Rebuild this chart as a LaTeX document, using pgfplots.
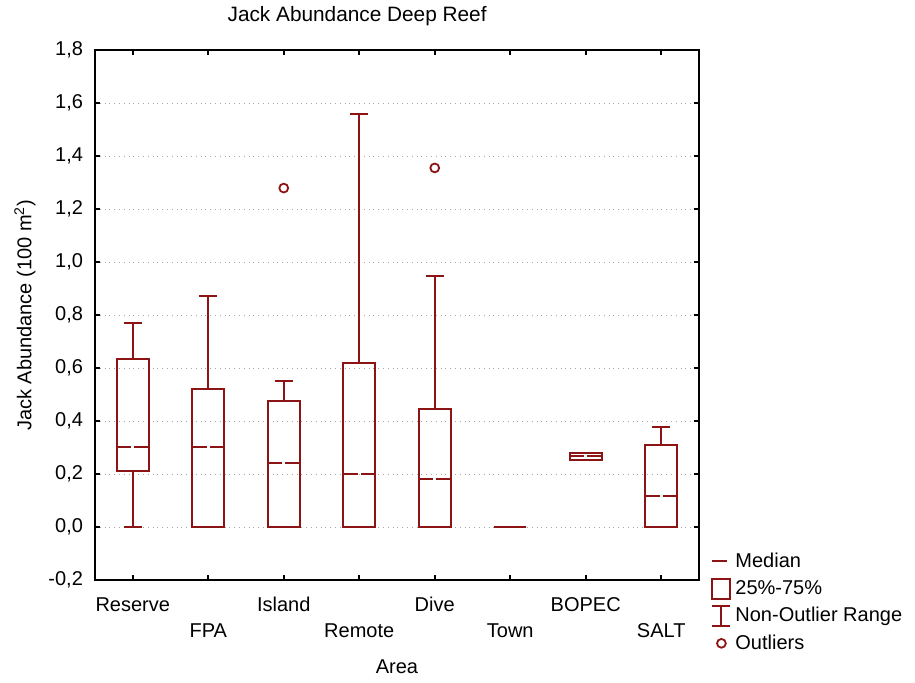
\documentclass[border=0pt]{standalone}
\usepackage{pgfplots}
\pgfplotsset{compat=1.18}
\usepgfplotslibrary{statistics}
\usepackage{fontspec}
\setmainfont{Liberation Sans}
\definecolor{boxred}{RGB}{140,20,20}

\pgfplotsset{
  boxplot/draw/median/.code={%
    \draw[/pgfplots/boxplot/every median/.try]
      (boxplot box cs:\pgfplotsboxplotvalue{median},0) -- (boxplot box cs:\pgfplotsboxplotvalue{median},0.45);
    \draw[/pgfplots/boxplot/every median/.try]
      (boxplot box cs:\pgfplotsboxplotvalue{median},0.55) -- (boxplot box cs:\pgfplotsboxplotvalue{median},1);
  },
  mybox/.style={boxred, line width=1pt, mark=o, mark size=2.2pt,
    mark options={line width=0.9pt, boxred}, forget plot,
    boxplot/draw direction=y,
    boxplot/box extend=0.42, boxplot/whisker extend=0.24},
}

\begin{document}
\begin{tikzpicture}[font=\fontsize{10}{12}\selectfont]
\begin{axis}[
  scale only axis, width=302pt, height=265pt,
  xmin=-0.5, xmax=7.5, ymin=-0.2, ymax=1.8,
  ytick={-0.2,0,0.2,0.4,0.6,0.8,1.0,1.2,1.4,1.6,1.8},
  yticklabel style={xshift=-2.5pt, /pgf/number format/use comma, /pgf/number format/fixed, /pgf/number format/fixed zerofill, /pgf/number format/precision=1, /pgf/number format/assume math mode=true},
  xtick={0,2,4,6}, xticklabels={Reserve,Island,Dive,BOPEC},
  extra x ticks={1,3,5,7}, extra x tick labels={FPA,Remote,Town,SALT},
  xticklabel style={yshift=-5pt},
  extra x tick style={xticklabel style={yshift=-13pt}},
  ymajorgrids, grid style={dotted, gray!70, line width=0.5pt},
  axis line style={line width=1pt},
  major tick length=2.5pt,
  tick style={line width=1pt, black},
  title={Jack Abundance Deep Reef},
  title style={at={(axis description cs:0.434,1.064)}, anchor=center, yshift=-6pt, font=\fontsize{10.4}{12}\selectfont},
  ylabel={Jack Abundance (100 m\textsuperscript{2})},
  ylabel style={at={(axis description cs:-0.116,0.5)}, anchor=center},
  xlabel={Area},
  xlabel style={at={(axis description cs:0.5,-0.164)}, anchor=center},
  legend style={at={(axis description cs:1.01,0.068)}, anchor=north west, draw=none, fill=none,
    font=\fontsize{10}{12}\selectfont, row sep=1pt},
  legend cell align=left,
]
\addplot[mybox, boxplot prepared={draw position=0, median=0.302, upper quartile=0.636, lower quartile=0.211, upper whisker=0.771, lower whisker=0}] coordinates {};
\addplot[mybox, boxplot prepared={draw position=1, median=0.302, upper quartile=0.522, lower quartile=0, upper whisker=0.871, lower whisker=0}] coordinates {};
\addplot[mybox, boxplot prepared={draw position=2, median=0.241, upper quartile=0.477, lower quartile=0, upper whisker=0.552, lower whisker=0}] coordinates {(2,1.28)};
\addplot[mybox, boxplot prepared={draw position=3, median=0.202, upper quartile=0.621, lower quartile=0, upper whisker=1.561, lower whisker=0}] coordinates {};
\addplot[mybox, boxplot prepared={draw position=4, median=0.182, upper quartile=0.446, lower quartile=0, upper whisker=0.947, lower whisker=0}] coordinates {(4,1.356)};
\addplot[mybox, boxplot prepared={draw position=5, median=0, upper quartile=0, lower quartile=0, upper whisker=0, lower whisker=0}] coordinates {};
\addplot[mybox, boxplot prepared={draw position=6, median=0.268, upper quartile=0.28, lower quartile=0.255, upper whisker=0.28, lower whisker=0.255}] coordinates {};
\addplot[mybox, boxplot prepared={draw position=7, median=0.119, upper quartile=0.31, lower quartile=0, upper whisker=0.377, lower whisker=0}] coordinates {};

\addlegendimage{legend image code/.code={\draw[boxred, line width=1pt] (0pt,0pt) -- (7.5pt,0pt);}}
\addlegendentry{Median}
\addlegendimage{legend image code/.code={\draw[boxred, line width=1pt] (0pt,-5pt) rectangle (9pt,5pt);}}
\addlegendentry{25\%-75\%}
\addlegendimage{legend image code/.code={\draw[boxred, line width=1pt] (0pt,-5pt) -- (9pt,-5pt) (4.5pt,-5pt) -- (4.5pt,5pt) (0pt,5pt) -- (9pt,5pt);}}
\addlegendentry{Non-Outlier Range}
\addlegendimage{legend image code/.code={\draw[boxred, line width=0.9pt] (4.5pt,0pt) circle (2.2pt);}}
\addlegendentry{Outliers}
\end{axis}
\path (-47.5pt,-51pt) rectangle (410pt,289.5pt);
\end{tikzpicture}
\end{document}
